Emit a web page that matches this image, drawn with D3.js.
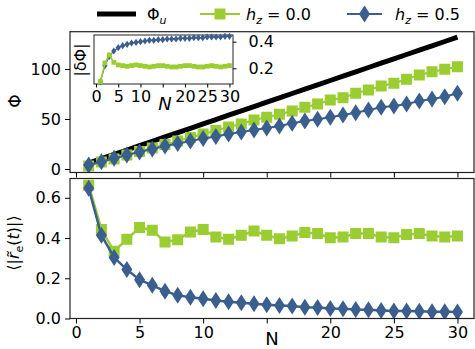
<!DOCTYPE html>
<html>
<head>
<meta charset="utf-8">
<script src="https://cdn.jsdelivr.net/npm/d3@7/dist/d3.min.js"></script>
<style>
  body { margin: 0; background: #fff; }
  text { font-family: "DejaVu Sans", sans-serif; fill: #000; }
</style>
</head>
<body>
<div id="chart"></div>
<script>
// data
const N = [1,2,3,4,5,6,7,8,9,10,11,12,13,14,15,16,17,18,19,20,21,22,23,24,25,26,27,28,29,30];
const phiU = [6,10.3,14.7,19,23.4,27.7,32.1,36.4,40.7,45.1,49.4,53.8,58.1,62.4,66.8,71.1,75.5,79.8,84.1,88.5,92.8,97.2,101.5,105.8,110.2,114.5,118.9,123.2,127.5,131.9];
const phiH0 = [3,7,10,14,17.5,21,24.5,28,31.5,35,38.5,42,45,49,51.7,54.7,58,61.7,65,69,71.3,75.7,79,83,85.7,89.7,94,97.3,99.7,102.3];
const phiH5 = [4,7.3,10.7,14,17,20,23,25.5,28,30.5,32.5,35,37,39,41,43,45.7,48,49.7,51.7,54,56.3,59,61.7,63,65,68,70,72.3,75.7];
const dH0 = [0.10,0.24,0.30,0.245,0.225,0.22,0.215,0.22,0.225,0.22,0.215,0.21,0.215,0.22,0.22,0.215,0.21,0.21,0.215,0.22,0.22,0.215,0.21,0.21,0.215,0.22,0.215,0.21,0.215,0.22];
const dH5 = [0.10,0.22,0.29,0.33,0.355,0.37,0.38,0.39,0.395,0.40,0.405,0.41,0.41,0.415,0.415,0.42,0.42,0.42,0.425,0.425,0.425,0.43,0.43,0.43,0.435,0.435,0.435,0.435,0.44,0.44];
const rH0 = [0.663,0.442,0.334,0.394,0.452,0.439,0.38,0.392,0.43,0.442,0.405,0.394,0.414,0.435,0.414,0.397,0.41,0.427,0.422,0.402,0.405,0.422,0.422,0.405,0.402,0.417,0.422,0.41,0.405,0.41];
const rH5 = [0.647,0.414,0.303,0.243,0.193,0.165,0.136,0.115,0.106,0.098,0.09,0.083,0.078,0.073,0.068,0.065,0.062,0.056,0.055,0.05,0.048,0.045,0.044,0.04,0.037,0.037,0.036,0.033,0.033,0.032];
const xTicks = [0,5,10,15,20,25,30];
const phiTicks = [0,50,100];
const rTicks = [0,0.2,0.4,0.6];
const dTicks = [0.2,0.4];

const green = "#9acd32", blue = "#3a5e8e";

const svg = d3.select("#chart").append("svg")
    .attr("width", 475).attr("height", 349);

const x = d3.scaleLinear().domain([-0.47, 31.3]).range([70, 474]);
const yTop = d3.scaleLinear().domain([-3.5, 137.3]).range([172.5, 31.7]);
const yBot = d3.scaleLinear().domain([0, 0.696]).range([318.5, 178.5]);
const xIn = d3.scaleLinear().domain([-0.45, 30.8]).range([94, 233]);
const yIn = d3.scaleLinear().domain([0.082, 0.45]).range([84, 35]);

function diamond(w, h) {
  return "M0," + (-h) + "L" + w + ",0L0," + h + "L" + (-w) + ",0Z";
}
function square(s) {
  return "M" + (-s) + "," + (-s) + "h" + (2*s) + "v" + (2*s) + "h" + (-2*s) + "Z";
}

function styleAxis(g, size) {
  g.select(".domain").remove();
  g.selectAll("line").attr("stroke", "#000").attr("stroke-width", 1);
  g.selectAll("text").attr("font-size", size).attr("font-family", "DejaVu Sans");
}

function series(g, xs, ys, vals, color, lw, shape) {
  const line = d3.line().x((d, i) => xs(N[i])).y(d => ys(d));
  g.append("path").datum(vals).attr("d", line)
    .attr("fill", "none").attr("stroke", color).attr("stroke-width", lw);
  g.selectAll(null).data(vals).enter().append("path")
    .attr("d", shape)
    .attr("transform", (d, i) => "translate(" + xs(N[i]) + "," + ys(d) + ")")
    .attr("fill", color);
}

svg.append("defs").call(d => {
  d.append("clipPath").attr("id", "cTop").append("rect")
    .attr("x", 70).attr("y", 31.7).attr("width", 404).attr("height", 140.8);
  d.append("clipPath").attr("id", "cBot").append("rect")
    .attr("x", 70).attr("y", 178.5).attr("width", 404).attr("height", 140);
});

// ---- top panel
const topG = svg.append("g").attr("clip-path", "url(#cTop)");
topG.append("path").datum(phiU)
  .attr("d", d3.line().x((d, i) => x(N[i])).y(d => yTop(d)))
  .attr("fill", "none").attr("stroke", "#000").attr("stroke-width", 5);
series(topG, x, yTop, phiH0, green, 2, square(5.5));
series(topG, x, yTop, phiH5, blue, 2, diamond(5.5, 8.5));

svg.append("rect").attr("x", 70).attr("y", 31.7).attr("width", 404).attr("height", 140.8)
  .attr("fill", "none").attr("stroke", "#222").attr("stroke-width", 1.2);

svg.append("g").attr("transform", "translate(70,0)")
  .call(d3.axisLeft(yTop).tickValues(phiTicks).tickSize(5).tickPadding(4))
  .call(g => styleAxis(g, 16));
svg.append("g").attr("transform", "translate(0,172.5)")
  .call(d3.axisBottom(x).tickValues(xTicks).tickSize(5).tickFormat(""))
  .call(g => styleAxis(g, 16));

svg.append("text").attr("transform", "translate(21,101) rotate(-90)")
  .attr("text-anchor", "middle").attr("font-size", 17).text("Φ");

// ---- inset
svg.append("rect").attr("x", 94).attr("y", 35).attr("width", 139).attr("height", 49)
  .attr("fill", "#fff").attr("stroke", "#222").attr("stroke-width", 1);
const insG = svg.append("g");
series(insG, xIn, yIn, dH5, blue, 1.2, diamond(2.6, 3.6));
series(insG, xIn, yIn, dH0, green, 1.5, square(2.4));

svg.append("g").attr("transform", "translate(0,84)")
  .call(d3.axisBottom(xIn).tickValues(xTicks).tickSize(3.5).tickPadding(3)
    .tickFormat(d => d === 15 ? "" : d))
  .call(g => styleAxis(g, 16));
svg.append("text").attr("x", 165).attr("y", 110).attr("text-anchor", "middle")
  .attr("font-size", 18).attr("font-style", "italic").text("N");
svg.append("g").attr("transform", "translate(233,0)")
  .call(d3.axisRight(yIn).tickValues(dTicks).tickSize(3.5).tickPadding(12)
    .tickFormat(d3.format(".1f")))
  .call(g => styleAxis(g, 16));
svg.append("text").attr("transform", "translate(86,60) rotate(-90)")
  .attr("text-anchor", "middle").attr("font-size", 16)
  .text("|δΦ|");

// ---- bottom panel
const botG = svg.append("g").attr("clip-path", "url(#cBot)");
series(botG, x, yBot, rH0, green, 2.5, square(5.5));
series(botG, x, yBot, rH5, blue, 2.5, diamond(5.5, 8.5));

svg.append("rect").attr("x", 70).attr("y", 178.5).attr("width", 404).attr("height", 140)
  .attr("fill", "none").attr("stroke", "#222").attr("stroke-width", 1.2);

svg.append("g").attr("transform", "translate(70,0)")
  .call(d3.axisLeft(yBot).tickValues(rTicks).tickSize(5).tickPadding(4)
    .tickFormat(d3.format(".1f")))
  .call(g => styleAxis(g, 16));
svg.append("g").attr("transform", "translate(0,318.5)")
  .call(d3.axisBottom(x).tickValues(xTicks).tickSize(5).tickPadding(3)
    .tickFormat(d => d === 15 ? "" : d))
  .call(g => styleAxis(g, 16));
svg.append("text").attr("x", 272).attr("y", 345).attr("text-anchor", "middle")
  .attr("font-size", 18).text("N");

const yl = svg.append("text").attr("transform", "translate(19,243) rotate(-90)")
  .attr("text-anchor", "middle").attr("font-size", 16);
yl.append("tspan").text("⟨|");
yl.append("tspan").attr("font-style", "italic").text("r\u0303");
yl.append("tspan").attr("font-size", 11).attr("dy", 4).text("e");
yl.append("tspan").attr("dy", -4).text("(");
yl.append("tspan").attr("font-style", "italic").text("t");
yl.append("tspan").text(")|⟩");

// ---- legend
const leg = svg.append("g");
leg.append("line").attr("x1", 97).attr("x2", 136).attr("y1", 14).attr("y2", 14)
  .attr("stroke", "#000").attr("stroke-width", 5);
const t1 = leg.append("text").attr("x", 147).attr("y", 20).attr("font-size", 16);
t1.append("tspan").text("Φ");
t1.append("tspan").attr("font-size", 11).attr("font-style", "italic").attr("dy", 4).text("u");

const legItems = [
  {x1: 200, x2: 240, color: green, shape: square(5.5), tx: 246, label: "0.0"},
  {x1: 347, x2: 382, color: blue, shape: diamond(5.5, 8.5), tx: 395, label: "0.5"}
];
legItems.forEach(it => {
  leg.append("line").attr("x1", it.x1).attr("x2", it.x2).attr("y1", 14).attr("y2", 14)
    .attr("stroke", it.color).attr("stroke-width", 2);
  leg.append("path").attr("d", it.shape)
    .attr("transform", "translate(" + (it.x1 + it.x2) / 2 + ",14)").attr("fill", it.color);
  const t = leg.append("text").attr("x", it.tx).attr("y", 20).attr("font-size", 16);
  t.append("tspan").attr("font-style", "italic").text("h");
  t.append("tspan").attr("font-size", 11).attr("font-style", "italic").attr("dy", 4).text("z");
  t.append("tspan").attr("dy", -4).text(" = " + it.label);
});
</script>
</body>
</html>
